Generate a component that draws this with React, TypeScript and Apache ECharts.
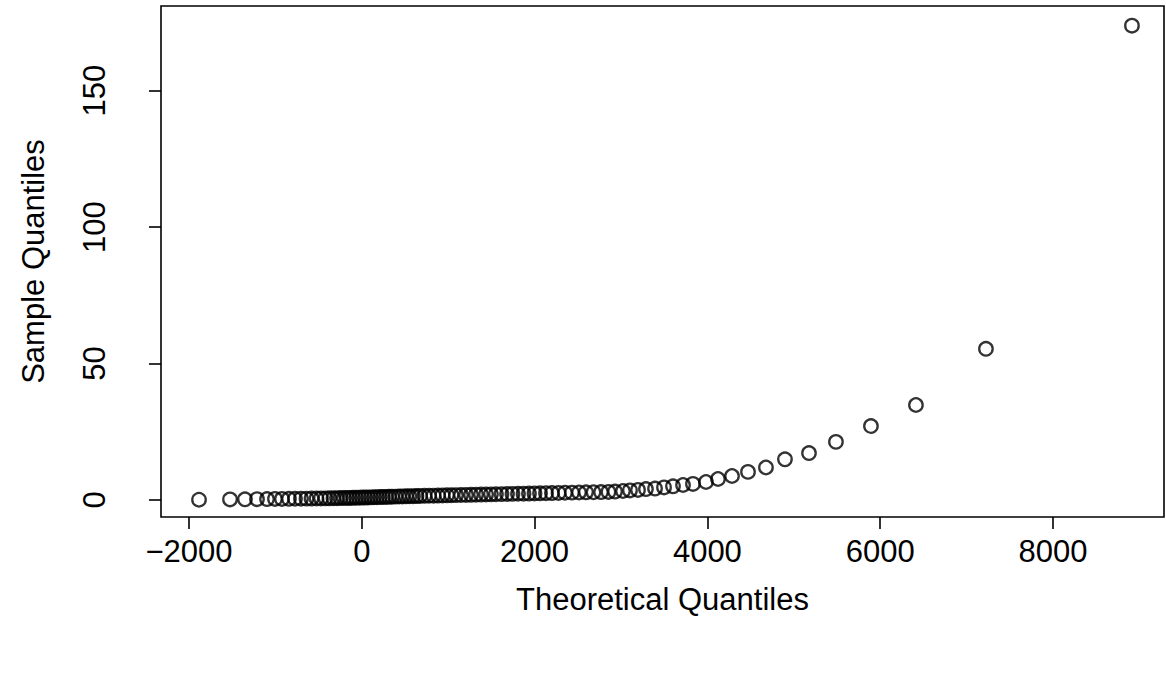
import React, { useEffect, useRef } from "react";
import * as echarts from "echarts";

// Theoretical quantiles (x)
const theoretical = [
  -1884, -1525, -1352, -1213, -1097, -1005, -924, -843, -773, -704,
  -640, -582, -524, -472, -420, -374, -328, -287, -247, -206,
  -171, -137, -102, -67, -32, 2, 37, 72, 106, 141,
  176, 211, 245, 280, 315, 350, 390, 431, 471, 512,
  552, 593, 633, 674, 726, 778, 830, 882, 934, 986,
  1038, 1090, 1148, 1206, 1264, 1322, 1380, 1438, 1495, 1553,
  1617, 1681, 1744, 1808, 1872, 1935, 1999, 2063, 2132, 2201,
  2277, 2352, 2433, 2514, 2595, 2682, 2769, 2855, 2931, 3023,
  3104, 3197, 3289, 3394, 3498, 3602, 3718, 3833, 3984, 4123,
  4285, 4470, 4678, 4898, 5176, 5488, 5893, 6414, 7224, 8914,
];

// Sample quantiles (y)
const sample = [
  0.1, 0.2, 0.25, 0.3, 0.35, 0.38, 0.4, 0.42, 0.45, 0.47,
  0.5, 0.52, 0.55, 0.57, 0.6, 0.62, 0.65, 0.67, 0.7, 0.72,
  0.75, 0.77, 0.8, 0.82, 0.85, 0.88, 0.9, 0.93, 0.96, 1.0,
  1.03, 1.06, 1.1, 1.13, 1.16, 1.2, 1.23, 1.27, 1.3, 1.34,
  1.37, 1.41, 1.45, 1.48, 1.52, 1.55, 1.59, 1.62, 1.66, 1.7,
  1.74, 1.78, 1.82, 1.86, 1.9, 1.94, 1.98, 2.02, 2.06, 2.1,
  2.15, 2.2, 2.24, 2.28, 2.32, 2.36, 2.4, 2.45, 2.5, 2.55,
  2.6, 2.65, 2.7, 2.75, 2.8, 2.85, 2.9, 2.95, 3.1, 3.3,
  3.5, 3.7, 4.0, 4.2, 4.6, 5.0, 5.5, 5.9, 6.6, 7.7,
  8.8, 10.3, 11.9, 14.9, 17.2, 21.3, 27.1, 34.8, 55.4, 173.8,
];

const xTicks = [-2000, 0, 2000, 4000, 6000, 8000];
const yTicks = [0, 50, 100, 150];

const xTitle = "Theoretical Quantiles";
const yTitle = "Sample Quantiles";

const FONT = "'Liberation Sans', Arial, Helvetica, sans-serif";

export default function App() {
  const ref = useRef<HTMLDivElement>(null);

  useEffect(() => {
    if (!ref.current) return;
    const chart = echarts.init(ref.current, null, { renderer: "svg" });
    const points = theoretical.map((x, i) => [x, sample[i]]);
    chart.setOption({
      animation: false,
      backgroundColor: "#ffffff",
      textStyle: { fontFamily: FONT },
      grid: {
        left: 161,
        right: 2,
        top: 6,
        bottom: 156,
        show: true,
        borderColor: "#000",
        borderWidth: 1.6,
        backgroundColor: "transparent",
        outerBoundsMode: "none",
        containLabel: false,
      },
      xAxis: {
        type: "value",
        position: "bottom",
        min: -2324,
        max: 9285,
        name: xTitle,
        nameLocation: "middle",
        nameGap: 67,
        nameTextStyle: { fontSize: 31, color: "#000", fontFamily: FONT },
        axisLine: { show: false, onZero: false },
        splitLine: { show: false },
        axisTick: {
          show: true,
          length: 12,
          customValues: xTicks,
          lineStyle: { color: "#000", width: 1.6 },
        },
        axisLabel: {
          show: true,
          customValues: xTicks,
          margin: 19,
          fontSize: 31,
          color: "#000",
          fontFamily: FONT,
          formatter: (v: number) => (v < 0 ? "\u2212" + Math.abs(v) : String(v)),
        },
      },
      yAxis: {
        type: "value",
        position: "left",
        min: -6.23,
        max: 181.0,
        name: yTitle,
        nameLocation: "middle",
        nameGap: 112,
        nameRotate: 90,
        nameTextStyle: { fontSize: 31, color: "#000", fontFamily: FONT },
        axisLine: { show: false, onZero: false },
        splitLine: { show: false },
        axisTick: {
          show: true,
          length: 12,
          customValues: yTicks,
          lineStyle: { color: "#000", width: 1.6 },
        },
        axisLabel: {
          show: true,
          customValues: yTicks,
          rotate: 90,
          margin: 51,
          fontSize: 31,
          color: "#000",
          fontFamily: FONT,
        },
      },
      series: [
        {
          type: "scatter",
          data: points,
          symbol: "circle",
          symbolSize: 13.5,
          silent: true,
          itemStyle: {
            color: "rgba(0,0,0,0)",
            borderColor: "#000",
            borderWidth: 2.3,
          },
          emphasis: { disabled: true },
        },
      ],
    });
    return () => chart.dispose();
  }, []);

  return (
    <div
      ref={ref}
      style={{
        position: "fixed",
        left: 0,
        top: 0,
        width: 1166,
        height: 673,
        background: "#fff",
      }}
    />
  );
}
